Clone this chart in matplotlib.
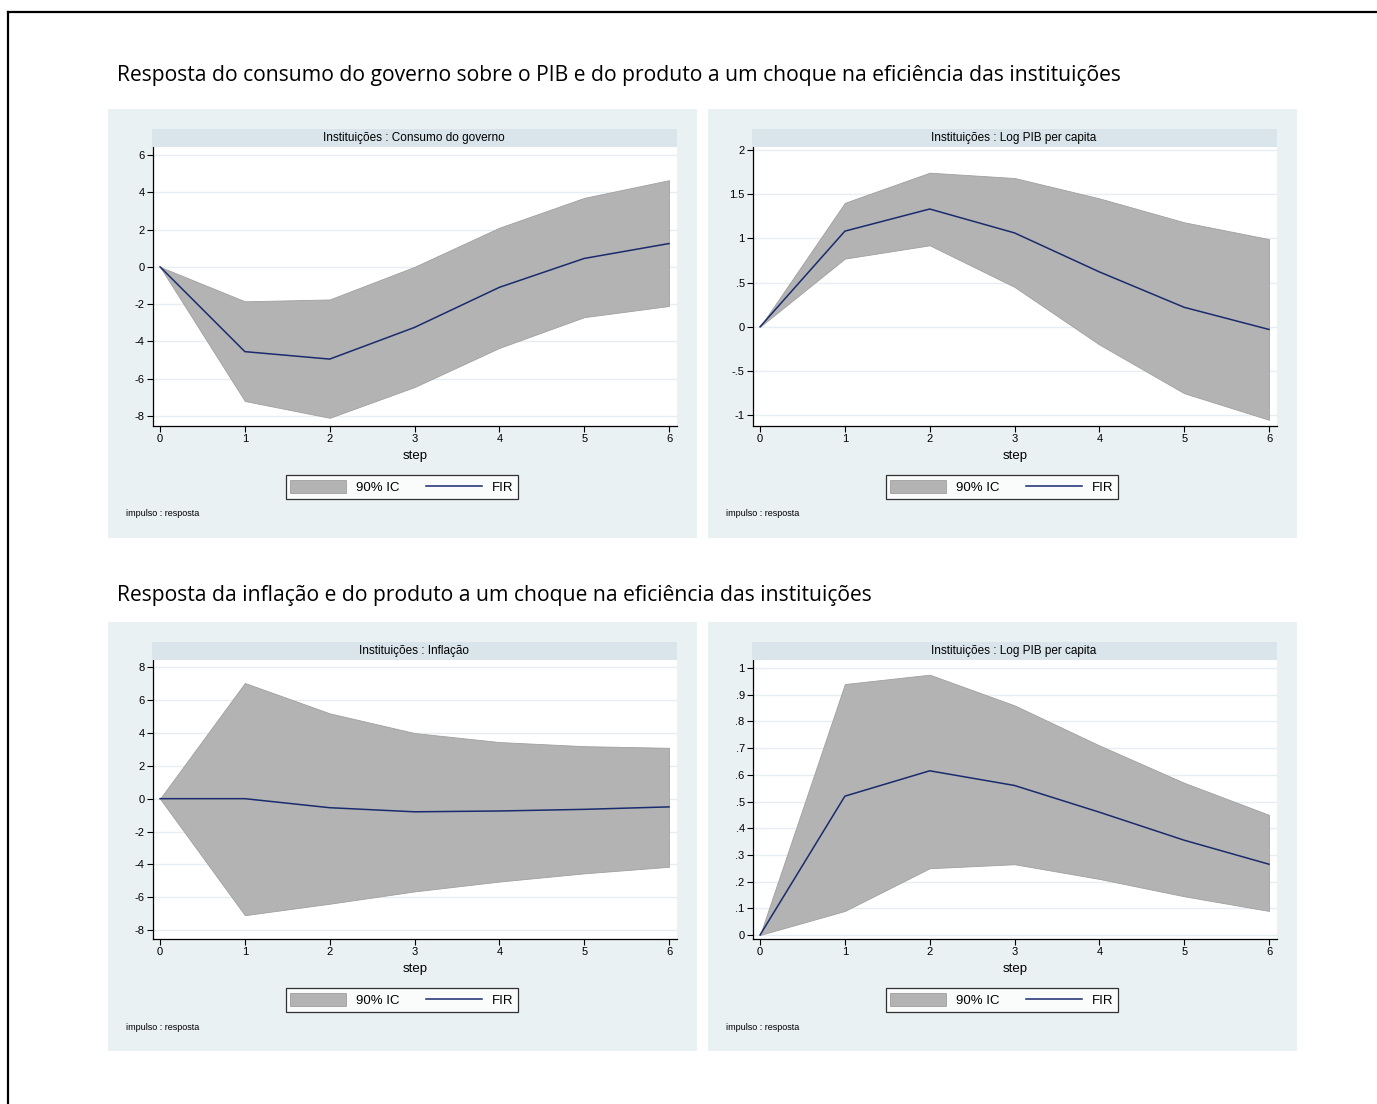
import numpy as np
import matplotlib.pyplot as plt
from matplotlib.patches import Rectangle, Patch
from matplotlib.lines import Line2D

W, H = 1377, 1104

steps = [0, 1, 2, 3, 4, 5, 6]

# Instituicoes -> Consumo do governo
gov_fir = [0, -4.55, -4.95, -3.25, -1.1, 0.45, 1.25]
gov_hi = [0, -1.85, -1.75, 0.0, 2.1, 3.7, 4.65]
gov_lo = [0, -7.2, -8.1, -6.45, -4.35, -2.7, -2.1]

# Instituicoes -> Log PIB per capita (top)
pib1_fir = [0, 1.08, 1.33, 1.06, 0.62, 0.22, -0.03]
pib1_hi = [0, 1.40, 1.74, 1.68, 1.45, 1.18, 0.99]
pib1_lo = [0, 0.77, 0.92, 0.45, -0.2, -0.75, -1.05]

# Instituicoes -> Inflacao
inf_fir = [0, 0.0, -0.55, -0.8, -0.75, -0.65, -0.5]
inf_hi = [0, 7.05, 5.2, 4.0, 3.45, 3.2, 3.1]
inf_lo = [0, -7.1, -6.4, -5.65, -5.05, -4.55, -4.15]

# Instituicoes -> Log PIB per capita (bottom)
pib2_fir = [0, 0.52, 0.615, 0.56, 0.46, 0.355, 0.265]
pib2_hi = [0, 0.94, 0.975, 0.86, 0.71, 0.57, 0.45]
pib2_lo = [0, 0.09, 0.25, 0.265, 0.21, 0.145, 0.09]

ticks_gov = [-8, -6, -4, -2, 0, 2, 4, 6]
labels_gov = ['-8', '-6', '-4', '-2', '0', '2', '4', '6']
ticks_pib1 = [-1, -0.5, 0, 0.5, 1, 1.5, 2]
labels_pib1 = ['-1', '-.5', '0', '.5', '1', '1.5', '2']
ticks_inf = [-8, -6, -4, -2, 0, 2, 4, 6, 8]
labels_inf = ['-8', '-6', '-4', '-2', '0', '2', '4', '6', '8']
ticks_pib2 = [0, .1, .2, .3, .4, .5, .6, .7, .8, .9, 1]
labels_pib2 = ['0', '.1', '.2', '.3', '.4', '.5', '.6', '.7', '.8', '.9', '1']

titles = ['Instituições : Consumo do governo', 'Instituições : Log PIB per capita',
          'Instituições : Inflação', 'Instituições : Log PIB per capita']
header1 = 'Resposta do consumo do governo sobre o PIB e do produto a um choque na eficiência das instituições'
header2 = 'Resposta da inflação e do produto a um choque na eficiência das instituições'

plt.rcParams['font.family'] = ['Liberation Sans', 'DejaVu Sans']

fig = plt.figure(figsize=(W / 100, H / 100), dpi=100)
fig.patch.set_facecolor('white')


def fx(x):
    return x / W


def fy(y):
    return 1 - y / H


# outer frame (top and left edges)
fig.add_artist(Line2D([fx(8), fx(W)], [fy(12), fy(12)], color='black', lw=1.6))
fig.add_artist(Line2D([fx(8), fx(8)], [fy(12), fy(H)], color='black', lw=1.6))

fig.text(fx(117), fy(75), header1, fontsize=15.2, family='Open Sans', va='center', ha='left')
fig.text(fx(117), fy(595), header2, fontsize=15.2, family='Open Sans', va='center', ha='left')

panels = [
    (108, 109, gov_fir, gov_hi, gov_lo, ticks_gov, labels_gov, (-8.54, 6.43)),
    (708, 109, pib1_fir, pib1_hi, pib1_lo, ticks_pib1, labels_pib1, (-1.12, 2.03)),
    (108, 622, inf_fir, inf_hi, inf_lo, ticks_inf, labels_inf, (-8.55, 8.45)),
    (708, 622, pib2_fir, pib2_hi, pib2_lo, ticks_pib2, labels_pib2, (-0.015, 1.03)),
]

for i, (px, py, fir, hi, lo, tks, tlabs, ylim) in enumerate(panels):
    # panel background
    fig.add_artist(Rectangle((fx(px), fy(py + 429)), 589 / W, 429 / H,
                             transform=fig.transFigure, facecolor='#eaf1f3',
                             edgecolor='none', zorder=0))
    # title bar
    fig.add_artist(Rectangle((fx(px + 44), fy(py + 38)), 525 / W, 18 / H,
                             transform=fig.transFigure, facecolor='#d9e5eb',
                             edgecolor='none', zorder=1))
    fig.text(fx(px + 44 + 262), fy(py + 29), titles[i], fontsize=8.5, ha='center', va='center')

    ax = fig.add_axes([fx(px + 45), fy(py + 317), 524 / W, 279 / H])
    ax.set_facecolor('white')
    ax.fill_between(steps, lo, hi, color='#b3b3b3', edgecolor='#a0a0a0', lw=0.6,
                    label='90% IC', zorder=2)
    ax.plot(steps, fir, color='#1a2b6d', lw=1.1, label='FIR', zorder=3)
    ax.set_xlim(-0.083, 6.094)
    ax.set_ylim(*ylim)
    ax.set_xticks(steps)
    ax.set_yticks(tks)
    ax.set_yticklabels(tlabs)
    ax.grid(axis='y', color='#e6eef1', lw=1)
    ax.set_axisbelow(True)
    for s in ['top', 'right']:
        ax.spines[s].set_visible(False)
    for s in ['left', 'bottom']:
        ax.spines[s].set_linewidth(0.9)
    ax.tick_params(labelsize=8, length=4, width=0.8, direction='out', pad=2)
    ax.set_xlabel('step', fontsize=9.5, labelpad=4)

    handles = [Patch(facecolor='#b3b3b3', edgecolor='#a0a0a0', lw=0.6),
               Line2D([0], [0], color='#1a2b6d', lw=1.1)]
    leg = fig.legend(handles, ['90% IC', 'FIR'], ncol=2, fontsize=9.5,
                     loc='center', bbox_to_anchor=(fx(px + 294), fy(py + 378)),
                     frameon=True, fancybox=False, edgecolor='black',
                     handlelength=4.2, handleheight=1.2, columnspacing=2.0,
                     borderpad=0.35, handletextpad=0.8)
    leg.get_frame().set_linewidth(0.9)
    leg.get_frame().set_facecolor('white')

    fig.text(fx(px + 18), fy(py + 405), 'impulso : resposta', fontsize=6.5, ha='left', va='center')

fig.savefig('out.png', dpi=100)
